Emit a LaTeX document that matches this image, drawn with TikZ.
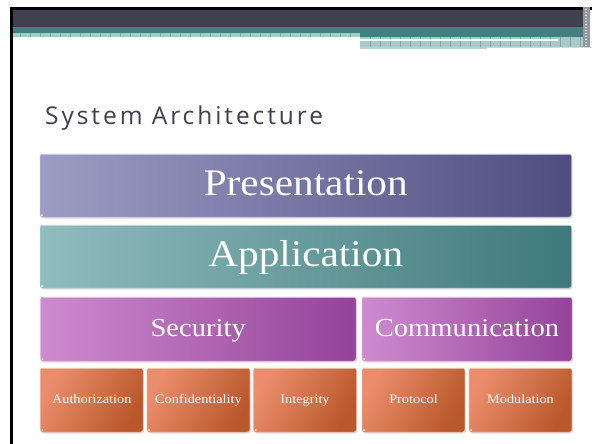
\documentclass[tikz,border=0pt]{standalone}
\usepackage{fontspec}
\usetikzlibrary{shadows}
\newfontfamily\layerfont[FakeStretch=1.1]{Liberation Serif}
\newfontfamily\titlefont[LetterSpace=12]{Open Sans}

\definecolor{slateband}{HTML}{41404F}
\definecolor{tealband}{HTML}{437F80}
\definecolor{hatchfill}{HTML}{A9C9C9}
\definecolor{hatchline}{HTML}{7FA9AA}
\definecolor{titlegray}{HTML}{3F3F4F}
\definecolor{presL}{HTML}{9D9CC4}
\definecolor{presR}{HTML}{4F4D80}
\definecolor{applL}{HTML}{90BCBE}
\definecolor{applR}{HTML}{3F797A}
\definecolor{secL}{HTML}{CE8BCF}
\definecolor{secR}{HTML}{934399}
\definecolor{subL}{HTML}{EB8D6C}
\definecolor{subR}{HTML}{B9582A}

\tikzset{
  layer/.style={rounded corners=2.5pt, inner sep=0pt, text=white,
    draw=#1, line width=0.5pt,
    drop shadow={shadow xshift=1pt, shadow yshift=-1.6pt, opacity=0.25},
    path picture={
      \draw[white, opacity=0.55, line width=1.2pt]
        ([xshift=2pt]path picture bounding box.north west) --
        ([xshift=-2pt]path picture bounding box.north east);
      \fill[white, opacity=0.9]
        ([shift={(2pt,2pt)}]path picture bounding box.south west) circle (1pt);
    }},
  wide/.style={layer=#1, minimum width=531.5pt, minimum height=63pt,
    font=\layerfont\fontsize{37.5}{40}\selectfont, text height=25pt, text depth=6pt},
  mid/.style={layer=#1, minimum height=64pt,
    font=\layerfont\fontsize{26}{30}\selectfont, text height=18pt, text depth=4pt},
  small/.style={layer=#1, minimum width=102.7pt, minimum height=64pt,
    font=\layerfont\fontsize{13}{15}\selectfont, text height=9pt, text depth=2.4pt},
  presshade/.style={left color=presL, right color=presR},
  applshade/.style={left color=applL, right color=applR},
  secshade/.style={left color=secL, right color=secR},
  subshade/.style={shading=axis, top color=subL, bottom color=subR, shading angle=60},
}

\begin{document}
\begin{tikzpicture}[x=1pt, y=-1pt]
  \useasboundingbox (0,0) rectangle (592,444);
  \fill[white] (0,0) rectangle (592,444);

  % slide frame and header bands
  \fill[black] (10,7) rectangle (592,10);
  \fill[black] (10,7) rectangle (12.5,444);
  \fill[slateband] (12.5,10) rectangle (583,27);
  \fill[tealband] (12.5,27) rectangle (583,33);
  \fill[tealband] (360,33) rectangle (583,37);
  \fill[hatchfill] (12.5,33) rectangle (360,37);
  \foreach \x in {20,30,...,355} \draw[hatchline, line width=0.6pt] (\x,33) -- (\x,37);
  \fill[hatchfill] (360,37) rectangle (583,47);
  \foreach \x in {370,380,...,580} \draw[hatchline, line width=0.6pt] (\x,37) -- (\x,47);
  \fill[white] (360,39.3) rectangle (558,40.6);
  \fill[hatchfill!80!white] (360,47) rectangle (487,49);
  \draw[hatchfill!60!white, line width=0.8pt] (487,47.5) -- (592,47.5);
  \fill[slateband!55!white] (583,7) rectangle (590,47);
  \foreach \y in {9,12,...,46} \fill[white, opacity=0.7] (585,\y) rectangle (587,\y+1.2);

  % title
  \node[anchor=base west, inner sep=0pt, text=titlegray,
        font=\titlefont\fontsize{24.5}{28}\selectfont] (title) at (45,124.3) {System Architecture};

  % layers
  \node[wide=presL!70!white, presshade] (pres) at (305.75,185.5) {Presentation};
  \node[wide=applL!70!white, applshade] (appl) at (305.75,256.5) {Application};
  \node[mid=secL!70!white, secshade, minimum width=315.5pt] (sec) at (198.25,329) {Security};
  \node[mid=secL!70!white, secshade, minimum width=210pt] (comm) at (467,329) {Communication};

  \node[small=subL!70!white, subshade] (auth) at (91.75,400) {Authorization};
  \node[small=subL!70!white, subshade] (conf) at (198.5,400) {Confidentiality};
  \node[small=subL!70!white, subshade] (integ) at (305,400) {Integrity};
  \node[small=subL!70!white, subshade] (proto) at (413.5,400) {Protocol};
  \node[small=subL!70!white, subshade] (modul) at (520.5,400) {Modulation};
\end{tikzpicture}
\end{document}
